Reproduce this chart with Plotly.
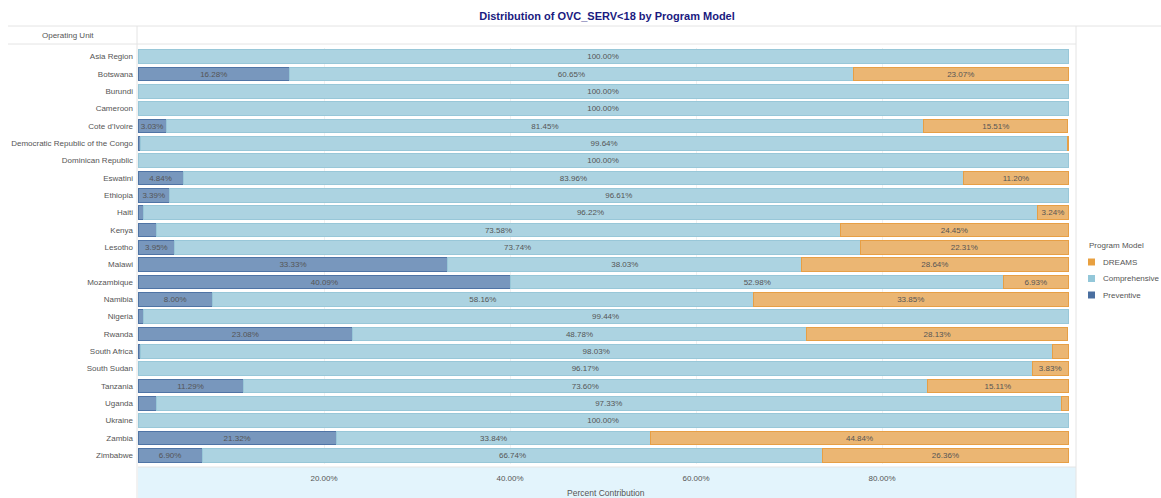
import plotly.graph_objects as go

units = ["Asia Region", "Botswana", "Burundi", "Cameroon", "Cote d'Ivoire",
         "Democratic Republic of the Congo", "Dominican Republic", "Eswatini",
         "Ethiopia", "Haiti", "Kenya", "Lesotho", "Malawi", "Mozambique",
         "Namibia", "Nigeria", "Rwanda", "South Africa", "South Sudan",
         "Tanzania", "Uganda", "Ukraine", "Zambia", "Zimbabwe"]
preventive = [0, 16.28, 0, 0, 3.03, 0.30, 0, 4.84, 3.39, 0.54, 1.97, 3.95,
              33.33, 40.09, 8.00, 0.56, 23.08, 0.25, 0, 11.29, 1.95, 0, 21.32, 6.90]
comprehensive = [100.00, 60.65, 100.00, 100.00, 81.45, 99.64, 100.00, 83.96,
                 96.61, 96.22, 73.58, 73.74, 38.03, 52.98, 58.16, 99.44, 48.78,
                 98.03, 96.17, 73.60, 97.33, 100.00, 33.84, 66.74]
dreams = [0, 23.07, 0, 0, 15.51, 0.06, 0, 11.20, 0, 3.24, 24.45, 22.31, 28.64,
          6.93, 33.85, 0, 28.13, 1.72, 3.83, 15.11, 0.72, 0, 44.84, 26.36]
x_ticks = [20, 40, 60, 80]
x_tick_labels = ["20.00%", "40.00%", "60.00%", "80.00%"]
legend_order = ["DREAMS", "Comprehensive", "Preventive"]

FONT = "Liberation Sans, Arial, sans-serif"
TXT = "#555555"


def labels(vals):
    return [f"{v:.2f}%" if v >= 3 else "" for v in vals]


series = [
    ("Preventive", preventive, "#7897bd", "#4f74a5", "#4a6fa0"),
    ("Comprehensive", comprehensive, "#acd3e1", "#98c7d8", "#93c7d9"),
    ("DREAMS", dreams, "#ebb673", "#e79f45", "#e8a040"),
]
solid = {s[0]: s[4] for s in series}

fig = go.Figure()
for name, vals, fill, edge, _ in series:
    fig.add_trace(go.Bar(
        y=units, x=[v if v > 0 else None for v in vals], orientation="h",
        name=name, showlegend=False,
        marker=dict(color=fill, line=dict(color=edge, width=1)),
        text=labels(vals), textposition="inside", insidetextanchor="middle",
        textfont=dict(family=FONT, size=8, color=TXT),
        hovertemplate="%{y}<br>" + name + ": %{x:.2f}%<extra></extra>",
    ))

L, R, T, B = 138, 85, 48, 34
W, H = 1161, 498
pw, ph = W - L - R, H - T - B


def px_x(p):
    return (p - L) / pw


def px_y(p):
    return (H - B - p) / ph


line_col = "#e4e4e4"
shapes = [
    dict(type="rect", xref="paper", yref="paper", x0=0, x1=1,
         y0=px_y(498), y1=px_y(467), fillcolor="#e3f4fc", line=dict(width=0),
         layer="below"),
    dict(type="line", xref="paper", yref="paper", x0=px_x(8), x1=px_x(1161),
         y0=px_y(26), y1=px_y(26), line=dict(color=line_col, width=1)),
    dict(type="line", xref="paper", yref="paper", x0=px_x(8), x1=1,
         y0=px_y(44), y1=px_y(44), line=dict(color=line_col, width=1)),
    dict(type="line", xref="paper", yref="paper", x0=px_x(137), x1=px_x(137),
         y0=px_y(498), y1=px_y(26), line=dict(color=line_col, width=1)),
    dict(type="line", xref="paper", yref="paper", x0=px_x(1076), x1=px_x(1076),
         y0=px_y(498), y1=px_y(26), line=dict(color=line_col, width=1)),
    dict(type="line", xref="paper", yref="paper", x0=0, x1=1,
         y0=px_y(467), y1=px_y(467), line=dict(color=line_col, width=1)),
]

annotations = [
    dict(text="Operating Unit", xref="paper", yref="paper", x=px_x(68), y=px_y(35),
         showarrow=False, xanchor="center", yanchor="middle",
         font=dict(family=FONT, size=8, color=TXT)),
    dict(text="Percent Contribution", xref="paper", yref="paper", x=px_x(606), y=px_y(493),
         showarrow=False, xanchor="center", yanchor="middle",
         font=dict(family=FONT, size=8.5, color=TXT)),
    dict(text="Program Model", xref="paper", yref="paper", x=px_x(1087), y=px_y(245),
         showarrow=False, xanchor="left", yanchor="middle",
         font=dict(family=FONT, size=8, color=TXT)),
]

# custom legend (DREAMS, Comprehensive, Preventive)
for i, name in enumerate(legend_order):
    yc = 262 + i * 16.5
    shapes.append(dict(type="rect", xref="paper", yref="paper",
                       x0=px_x(1088), x1=px_x(1095), y0=px_y(yc + 3.5), y1=px_y(yc - 3.5),
                       fillcolor=solid[name], line=dict(width=0)))
    annotations.append(dict(text=name, xref="paper", yref="paper", x=px_x(1101), y=px_y(yc),
                            showarrow=False, xanchor="left", yanchor="middle",
                            font=dict(family=FONT, size=8, color=TXT)))

fig.update_layout(
    width=W, height=H,
    margin=dict(l=L, r=R, t=T, b=B, autoexpand=False),
    barmode="stack", bargap=0.22,
    plot_bgcolor="white", paper_bgcolor="white",
    showlegend=False,
    title=dict(text="<b>Distribution of OVC_SERV<18 by Program Model</b>",
               x=0.5, xref="paper", xanchor="center", y=1 - 16 / H, yanchor="middle",
               font=dict(family=FONT, size=11, color="#1a1a80")),
    font=dict(family=FONT, size=8, color=TXT),
    xaxis=dict(range=[0, 100.86], tickvals=x_ticks, ticktext=x_tick_labels,
               showgrid=True, gridcolor="#f0f0f0", zeroline=False, showline=False,
               ticks="", ticklabelstandoff=8, tickfont=dict(family=FONT, size=8, color=TXT),
               fixedrange=True),
    yaxis=dict(autorange="reversed", showgrid=False, zeroline=False, showline=False,
               ticks="", ticklabelstandoff=4,
               tickfont=dict(family=FONT, size=8, color=TXT), fixedrange=True),
    uniformtext=dict(minsize=8, mode="show"),
    shapes=shapes, annotations=annotations,
)

fig.write_html("out.html", config={"displayModeBar": False},
               post_script="document.body.style.margin='0';document.body.style.overflow='hidden';")
